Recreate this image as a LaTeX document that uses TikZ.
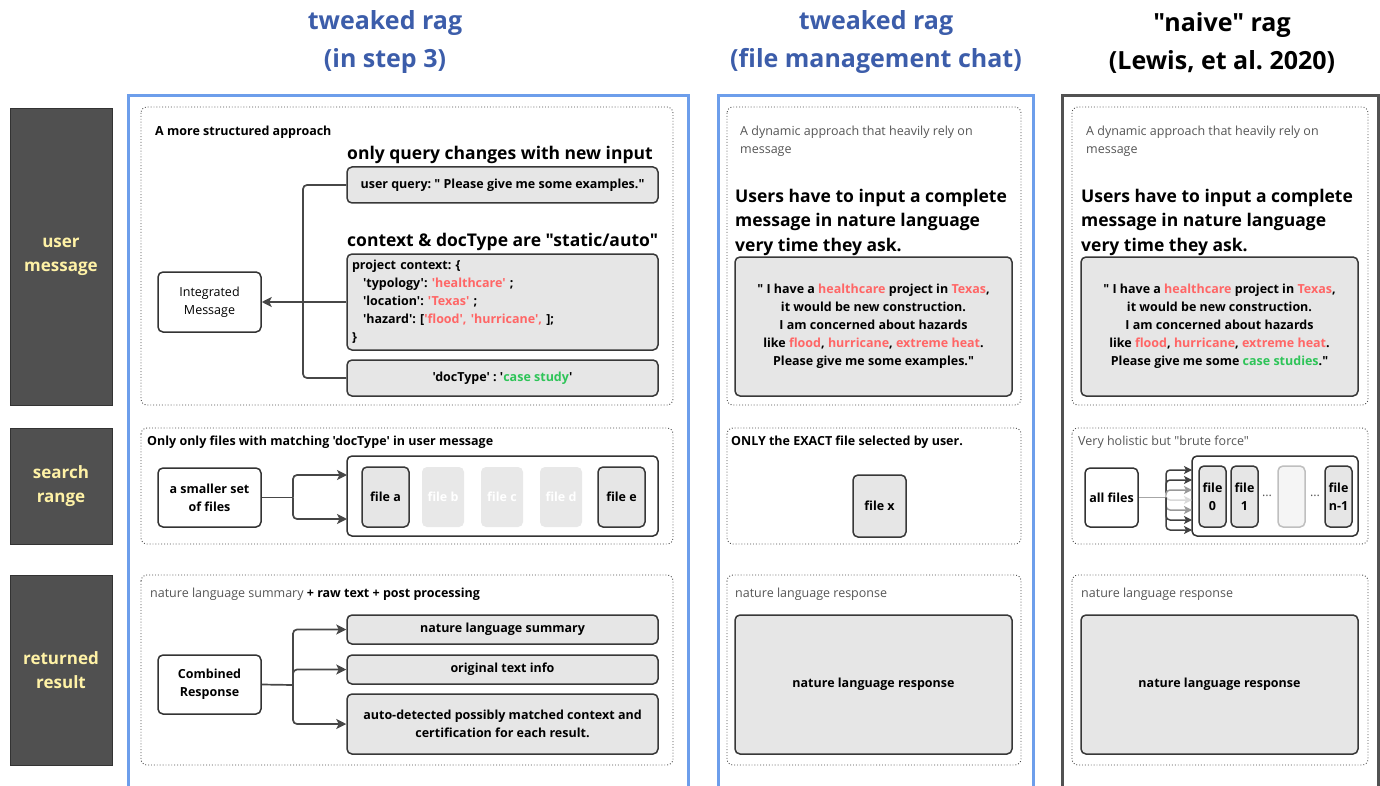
\documentclass[tikz,border=0pt]{standalone}
\usepackage{fontspec}
\setmainfont{Open Sans}[Ligatures=TeXOff]
\usetikzlibrary{arrows.meta}
\frenchspacing

\definecolor{frameblue}{HTML}{6D9EEB}
\definecolor{titleblue}{HTML}{3C5DAA}
\definecolor{labelgray}{HTML}{505050}
\definecolor{labeltext}{HTML}{FFF2A6}
\definecolor{boxgray}{HTML}{E6E6E6}
\definecolor{hotred}{HTML}{FF6666}
\definecolor{okgreen}{HTML}{2EC458}
\definecolor{notegray}{HTML}{555555}

\newcommand\ragsmall{\fontsize{12.5}{18}\selectfont}
\newcommand\raghead{\fontsize{17.5}{24.5}\selectfont}
\newcommand\ragtitle{\fontsize{25}{38}\selectfont}

\begin{document}
\begin{tikzpicture} [x=1pt, y=-1pt,
		rowlabel/.style={fill=labelgray, draw=black!80, text=labeltext, align=center,
			font=\bfseries\fontsize{17}{24}\selectfont, minimum width=102pt, inner sep=0pt},
		coltitle/.style={align=center, font=\bfseries\ragtitle, text=titleblue},
		panel/.style={draw=black!70, dotted, line width=0.9pt, rounded corners=6pt},
		note/.style={anchor=base west, inner sep=0pt, font=\ragsmall},
		graybox/.style={draw=black!78, fill=boxgray, rounded corners=5pt, line width=1.5pt,
			font=\bfseries\ragsmall, align=center, inner sep=0pt},
		whitebox/.style={draw=black!80, fill=white, rounded corners=5pt, line width=1.5pt,
			font=\bfseries\ragsmall, align=center, inner sep=0pt},
		fadedbox/.style={fill=black!9, text=white, rounded corners=5pt,
			font=\bfseries\ragsmall, inner sep=0pt},
		conn/.style={draw=black!72, line width=1.7pt, rounded corners=4pt},
		tip/.style={-{Stealth[length=10pt, width=10pt, inset=2.5pt]}}]

			\useasboundingbox (0,0) rectangle (1380,786);

			\node [coltitle] (t1) at (385,42.5) {tweaked rag\\(in step 3)};
			\node [coltitle] (t2) at (876,42.5) {tweaked rag\\(file management chat)};
			\node [coltitle, text=black] (t3) at (1222,42.5) {"naive" rag\\(Lewis, et al. 2020)};

			\draw [frameblue, line width=3pt] (128,96) rectangle (688,800);
			\draw [frameblue, line width=3pt] (718,96) rectangle (1033,800);
			\draw [black!68, line width=3pt] (1062,96) rectangle (1378,800);

			\node [rowlabel, minimum height=297pt] (um) at (61,256.5) {user\\message};
			\node [rowlabel, minimum height=116pt] (sr) at (61,486) {search\\range};
			\node [rowlabel, minimum height=190pt] (rr) at (61,670) {returned\\result};

			\foreach \xa/\xb in {141/673, 727/1021, 1072/1368}
				\foreach \ya/\yb in {107/405, 428/544, 575/765}
					\draw [panel] (\xa,\ya) rectangle (\xb,\yb);

			\node [note, font=\bfseries\ragsmall] (h11) at (155,135.5) {A more structured approach};
			\node [note, font=\bfseries\raghead] (q11) at (347,160) {only query changes with new input};
			\node [note, font=\bfseries\raghead] (q12) at (347,247) {context \& docType are "static/auto"};
			\node [graybox, minimum width=311pt, minimum height=36pt] (uq) at (502.5,185)
				{user query: " Please give me some examples."};
			\node [graybox, minimum width=311pt, minimum height=96pt, text width=301pt, align=left] (ctx) at (502.5,302)
				{project context: \{\\
				\hspace*{11pt}'typology': \textcolor{hotred}{'healthcare'} ;\\
				\hspace*{11pt}'location': \textcolor{hotred}{'Texas'} ;\\
				\hspace*{11pt}'hazard': [\textcolor{hotred}{'flood', 'hurricane',} ];\\
				\}};
			\node [graybox, minimum width=311pt, minimum height=36pt] (dt) at (502.5,378)
				{'docType' : '\textcolor{okgreen}{case study}'};
			\node [whitebox, font=\ragsmall, minimum width=103pt, minimum height=60pt] (im) at (209.5,302) {Integrated\\Message};
			\coordinate (jm) at (303,302);
			\draw [conn] (uq.west) -| (jm);
			\draw [conn] (dt.west) -| (jm);
			\draw [conn, tip] (ctx.west) -- (im.east);

			\node [note, font=\bfseries\ragsmall] (h12) at (147,445.5) {Only only files with matching 'docType' in user message};
			\node [whitebox, minimum width=103pt, minimum height=59pt] (sm) at (209.5,497.5) {a smaller set\\of files};
			\node [whitebox, minimum width=311pt, minimum height=80pt] (fs) at (502.5,496) {};
			\node [graybox, minimum width=47pt, minimum height=60pt] (fa) at (385.5,497) {file a};
			\node [fadedbox, minimum width=42pt, minimum height=60pt] (fb) at (443,497) {file b};
			\node [fadedbox, minimum width=42pt, minimum height=60pt] (fc) at (502,497) {file c};
			\node [fadedbox, minimum width=42pt, minimum height=60pt] (fd) at (561,497) {file d};
			\node [graybox, minimum width=47pt, minimum height=60pt] (fe) at (621.5,497) {file e};
			\coordinate (js) at (293,497.5);
			\coordinate (su) at (347,475);
			\coordinate (sd) at (347,519);
			\draw [conn] (sm.east) -- (js);
			\draw [conn, tip] (js) |- (su);
			\draw [conn, tip] (js) |- (sd);

			\node [note] (h13) at (150,597.5) {\textcolor{notegray}{nature language summary} \textbf{+ raw text + post processing}};
			\node [whitebox, minimum width=103pt, minimum height=59pt] (cr) at (209.5,684.5) {Combined\\Response};
			\node [graybox, minimum width=311pt, minimum height=29pt] (ns) at (502.5,629.5) {nature language summary};
			\node [graybox, minimum width=311pt, minimum height=29pt] (ot) at (502.5,669.5) {original text info};
			\node [graybox, minimum width=311pt, minimum height=60pt] (ad) at (502.5,724)
				{auto-detected possibly matched context and\\certification for each result.};
			\coordinate (jr) at (293,685);
			\draw [conn] (cr.east) -- (jr);
			\draw [conn, tip] (jr) |- (ns.west);
			\draw [conn, tip] (jr) |- (ot.west);
			\draw [conn, tip] (jr) |- (ad.west);

			\node [note, anchor=north west, align=left, text=notegray] (h21) at (740,126)
				{A dynamic approach that heavily rely on\\message};
			\node [note, anchor=north west, align=left, font=\bfseries\raghead] (b21) at (735,189)
				{Users have to input a complete\\message in nature language\\very time they ask.};
			\node [graybox, minimum width=277pt, minimum height=139pt] (m21) at (873.5,326.5)
				{" I have a \textcolor{hotred}{healthcare} project in \textcolor{hotred}{Texas},\\
				it would be new construction.\\
				I am concerned about hazards\\
				like \textcolor{hotred}{flood}, \textcolor{hotred}{hurricane}, \textcolor{hotred}{extreme heat}.\\
				Please give me some examples."};
			\node [note, font=\bfseries\ragsmall] (h22) at (731,445.5) {ONLY the EXACT file selected by user.};
			\node [graybox, minimum width=53pt, minimum height=62pt] (fx) at (879.5,506) {file x};
			\node [note, text=notegray] (h23) at (735,597.5) {nature language response};
			\node [graybox, minimum width=277pt, minimum height=139pt] (r21) at (873.5,684.5) {nature language response};

			\node [note, anchor=north west, align=left, text=notegray] (h31) at (1086,126)
				{A dynamic approach that heavily rely on\\message};
			\node [note, anchor=north west, align=left, font=\bfseries\raghead] (b31) at (1081,189)
				{Users have to input a complete\\message in nature language\\very time they ask.};
			\node [graybox, minimum width=277pt, minimum height=139pt] (m31) at (1219.5,326.5)
				{" I have a \textcolor{hotred}{healthcare} project in \textcolor{hotred}{Texas},\\
				it would be new construction.\\
				I am concerned about hazards\\
				like \textcolor{hotred}{flood}, \textcolor{hotred}{hurricane}, \textcolor{hotred}{extreme heat}.\\
				Please give me some \textcolor{okgreen}{case studies}."};
			\node [note, text=notegray] (h32) at (1078,445.5) {Very holistic but "brute force"};
			\node [whitebox, minimum width=53pt, minimum height=59pt] (af) at (1111.5,497.5) {all files};
			\node [whitebox, minimum width=166pt, minimum height=80pt] (fn) at (1275,496) {};
			\node [graybox, minimum width=27pt, minimum height=61pt] (f0) at (1212.5,496.5) {file\\0};
			\node [graybox, minimum width=27pt, minimum height=61pt] (f1) at (1244.5,496.5) {file\\1};
			\node [graybox, draw=black!25, fill=black!4, minimum width=27pt, minimum height=61pt] (fk) at (1291.5,496.5) {};
			\node [graybox, minimum width=27pt, minimum height=61pt] (fl) at (1338.5,496.5) {file\\n-1};
			\node [font=\ragsmall, text=notegray] (d1) at (1267,496) {...};
			\node [font=\ragsmall, text=notegray] (d2) at (1315,496) {...};
			\coordinate (jf) at (1166,497.5);
			\draw [conn, draw=black!35] (af.east) -- (jf);
			\foreach \yy/\cc in {470/black!75, 480/black!75, 490/black!40, 500/black!15, 510/black!40, 520/black!75, 530/black!75} {
				\coordinate (fan\yy) at (1192,\yy);
				\draw [conn, draw=\cc, line width=1.5pt, -{Stealth[length=8pt, width=8pt, inset=2pt]}] (jf) |- (fan\yy);
			}
			\node [note, text=notegray] (h33) at (1081,597.5) {nature language response};
			\node [graybox, minimum width=277pt, minimum height=139pt] (r31) at (1219.5,684.5) {nature language response};
		\end{tikzpicture}
\end{document}
